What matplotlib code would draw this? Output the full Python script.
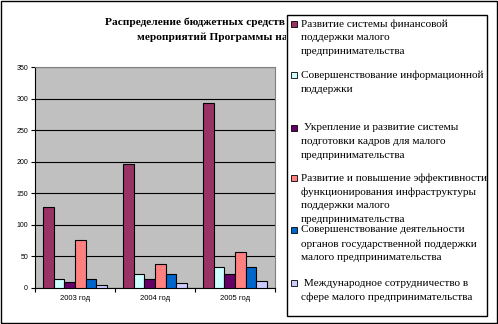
import matplotlib
matplotlib.use("Agg")
import matplotlib.pyplot as plt
import numpy as np
from matplotlib.patches import Rectangle

years = ["2003 год", "2004 год", "2005 год"]
series_names = [
    "Развитие системы финансовой\nподдержки малого\nпредпринимательства",
    "Совершенствование информационной\nподдержки",
    " Укрепление и развитие системы\nподготовки кадров для малого\nпредпринимательства",
    "Развитие и повышение эффективности\nфункционирования инфраструктуры\nподдержки малого\nпредпринимательства",
    "Совершенствование деятельности\nорганов государственной поддержки\nмалого предпринимательства",
    " Международное сотрудничество в\nсфере малого предпринимательства",
]
fin_support = [129, 196, 293]
info_support = [15, 22, 33]
personnel = [9, 15, 22]
infrastructure = [76, 38, 57]
gov_bodies = [15, 22, 33]
international = [4, 8, 11]
series_values = [fin_support, info_support, personnel, infrastructure, gov_bodies, international]
colors = ["#993366", "#CCFFFF", "#660066", "#FF8080", "#0066CC", "#CCCCFF"]
yticks = [0, 50, 100, 150, 200, 250, 300, 350]
title_lines = ["Распределение бюджетных средств", "мероприятий Программы на"]

W, H = 498, 324
fig = plt.figure(figsize=(W / 100, H / 100), dpi=100)
fig.patch.set_facecolor("white")

def fx(px):
    return px / W

def fy(py):
    return 1 - py / H

ax = fig.add_axes([fx(35), fy(288), fx(275) - fx(35), fy(67) - fy(288)])
ax.set_facecolor("#C0C0C0")
x = np.arange(len(years))
bw = 0.8 / 6
for i, vals in enumerate(series_values):
    ax.bar(x - 0.4 + bw * (i + 0.5), vals, width=bw, color=colors[i],
           edgecolor="black", linewidth=0.8, zorder=3)
ax.set_xlim(-0.5, 2.5)
ax.set_ylim(0, 350)
ax.set_yticks(yticks)
ax.set_yticklabels([str(t) for t in yticks], fontsize=5, family="Liberation Sans")
ax.yaxis.grid(True, color="black", linewidth=0.8, zorder=1)
ax.set_axisbelow(True)
ax.set_xticks([-0.5, 0.5, 1.5, 2.5])
ax.set_xticklabels([])
ax.set_xticks(x, minor=True)
ax.set_xticklabels(years, minor=True, fontsize=5.5, family="Liberation Sans")
ax.tick_params(axis="x", which="minor", length=0, pad=5)
ax.tick_params(axis="x", which="major", length=3, width=0.8, direction="out")
ax.tick_params(axis="y", length=3, width=0.8, direction="out", pad=2)
for s in ["top", "right"]:
    ax.spines[s].set_color("#808080")
    ax.spines[s].set_linewidth(0.8)
for s in ["left", "bottom"]:
    ax.spines[s].set_color("black")
    ax.spines[s].set_linewidth(0.8)

# Title (cut off by the legend, as in the original)
clip = Rectangle((0, 0), fx(286), 1, transform=fig.transFigure, facecolor="none", edgecolor="none")
fig.patches.append(clip)
for k, (tx, ty) in enumerate([(105, 22), (137, 37)]):
    t = fig.text(fx(tx), fy(ty), title_lines[k], fontsize=8.2, fontweight="bold",
                 family="Liberation Serif", va="center", ha="left", zorder=1)
    t.set_clip_path(clip)

# Legend box
fig.patches.append(Rectangle((fx(287), fy(316)), fx(487) - fx(287), fy(15) - fy(316),
                             transform=fig.transFigure, facecolor="white", edgecolor="black",
                             linewidth=1.0, zorder=5))
entry_y = [24, 75, 128, 178, 230, 283]
line_h = 14
for i, name in enumerate(series_names):
    y0 = entry_y[i]
    fig.patches.append(Rectangle((fx(291), fy(y0 + 3)), fx(6), 6 / H,
                                 transform=fig.transFigure, facecolor=colors[i],
                                 edgecolor="black", linewidth=0.6, zorder=6))
    for j, line in enumerate(name.split("\n")):
        fig.text(fx(301), fy(y0 + j * line_h), line, fontsize=8.1, family="Liberation Serif",
                 va="center", ha="left", zorder=7)

# Outer border
fig.patches.append(Rectangle((0.002, 0.003), 0.995, 0.994, transform=fig.transFigure,
                             facecolor="none", edgecolor="black", linewidth=1.0, zorder=10))

fig.savefig("out.png", dpi=100)
